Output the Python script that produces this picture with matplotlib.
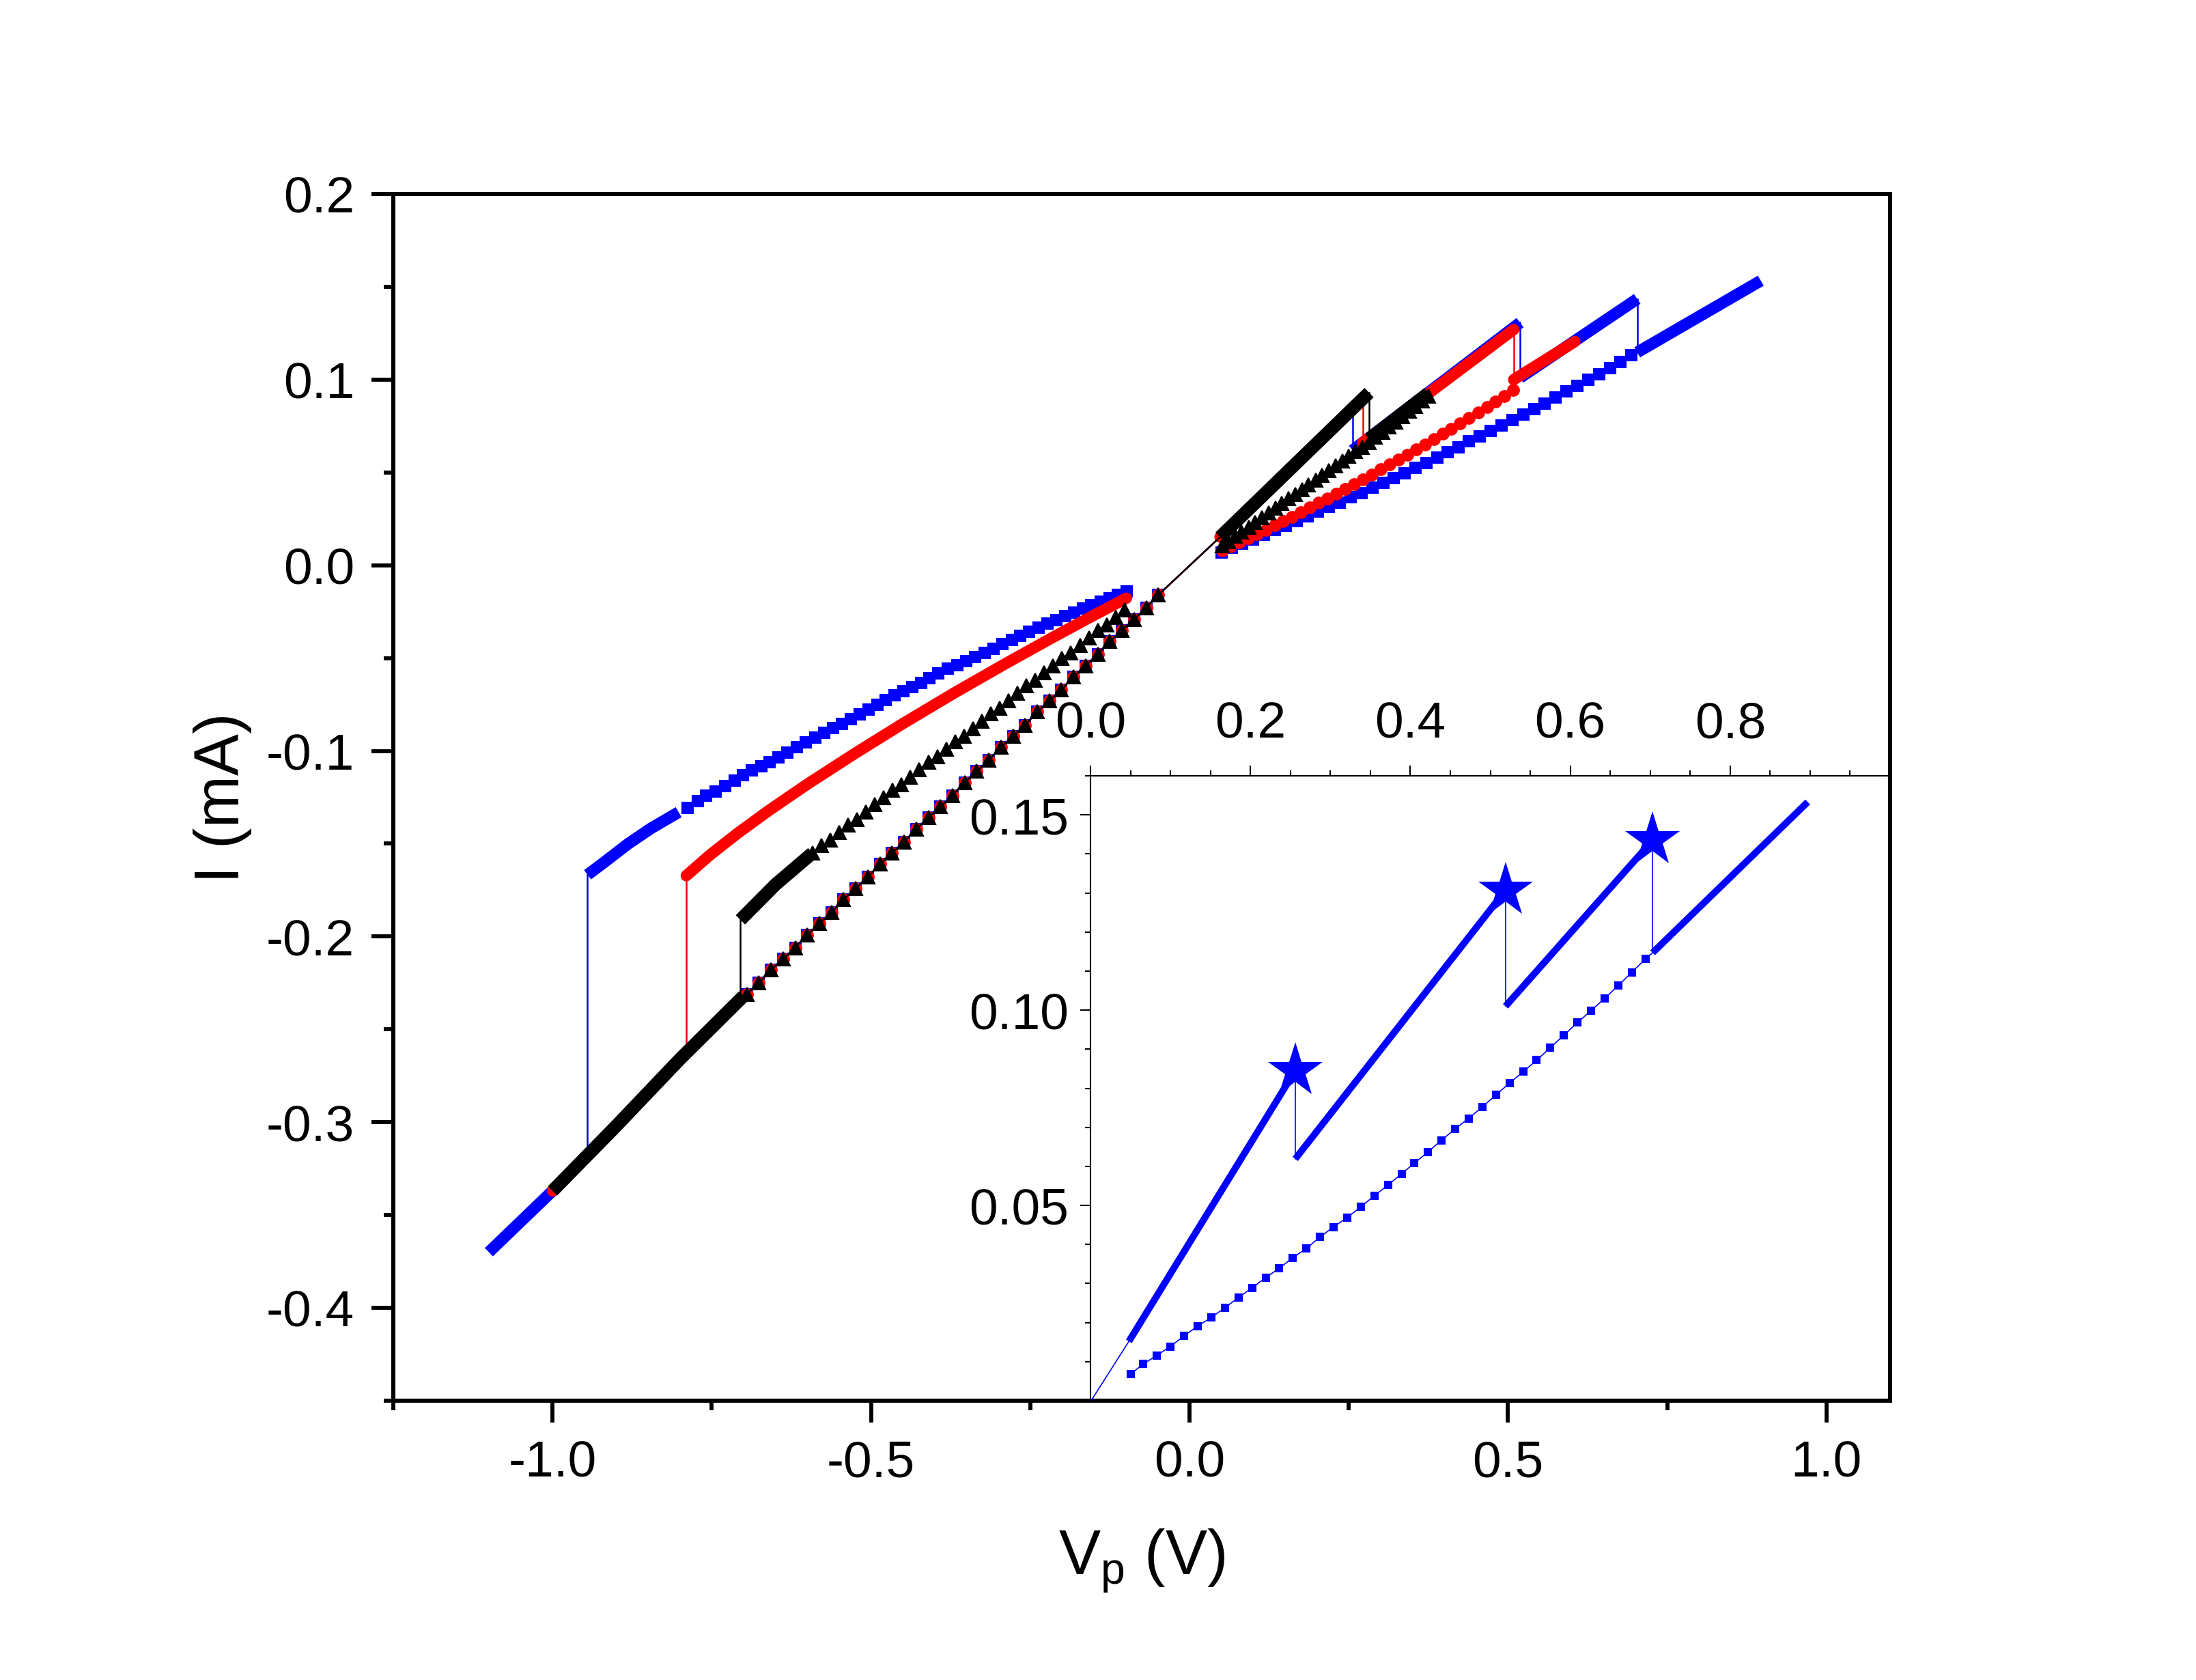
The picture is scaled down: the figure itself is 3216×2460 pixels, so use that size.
import matplotlib
matplotlib.use('Agg')
import matplotlib.pyplot as plt
from matplotlib.ticker import MultipleLocator, FixedLocator

plt.rcParams['font.family'] = ['Liberation Sans', 'DejaVu Sans']
plt.rcParams['mathtext.fontset'] = 'custom'
plt.rcParams['mathtext.rm'] = 'Liberation Sans'
plt.rcParams['mathtext.it'] = 'Liberation Sans:italic'
plt.rcParams['axes.unicode_minus'] = False

BLUE = '#0000FF'
RED = '#FF0000'
BLACK = '#000000'

# ---- negative side, low resistance branch (shared by all three sweeps) ----
lrs_dense_v = [-1.10, -1.00, -0.90, -0.80, -0.70]
lrs_dense_i = [-0.370, -0.337, -0.302, -0.266, -0.232]

lrs_v = [-0.695, -0.676, -0.657, -0.638, -0.619, -0.600, -0.581, -0.562, -0.543, -0.524,
         -0.505, -0.486, -0.467, -0.448, -0.429, -0.410, -0.391, -0.372, -0.353, -0.334,
         -0.315, -0.296, -0.277, -0.258, -0.239, -0.220, -0.201, -0.182, -0.163, -0.144,
         -0.125, -0.106, -0.087, -0.068, -0.049]
lrs_i = [-0.231, -0.225, -0.218, -0.212, -0.206, -0.199, -0.193, -0.187, -0.180, -0.174,
         -0.168, -0.161, -0.155, -0.149, -0.142, -0.136, -0.130, -0.124, -0.117, -0.111,
         -0.105, -0.098, -0.092, -0.086, -0.079, -0.073, -0.067, -0.060, -0.054, -0.048,
         -0.041, -0.035, -0.029, -0.023, -0.016]

# most negative voltage of each sweep (blue, red, black)
v_min = {'blue': -1.10, 'red': -1.00, 'black': -1.00}

# switching jumps on the negative side: voltage, low current, high current
set_v = {'blue': -0.945, 'red': -0.790, 'black': -0.705}
set_i_low = {'blue': -0.317, 'red': -0.262, 'black': -0.232}
set_i_high = {'blue': -0.1667, 'red': -0.1673, 'black': -0.191}

# ---- negative side, high resistance branches ----
blue_hrs_dense_v = [-0.945, -0.919, -0.882, -0.845, -0.802]
blue_hrs_dense_i = [-0.1667, -0.1600, -0.1502, -0.1416, -0.1330]
blue_hrs_v = [-0.788, -0.772, -0.759, -0.744, -0.729, -0.714, -0.701, -0.687, -0.672, -0.659,
              -0.645, -0.631, -0.616, -0.602, -0.587, -0.574, -0.560, -0.546, -0.532, -0.518,
              -0.504, -0.490, -0.477, -0.463, -0.449, -0.435, -0.421, -0.408, -0.394, -0.379,
              -0.364, -0.350, -0.337, -0.322, -0.308, -0.294, -0.279, -0.266, -0.252, -0.237,
              -0.223, -0.209, -0.195, -0.181, -0.167, -0.154, -0.139, -0.125, -0.112, -0.099]
blue_hrs_i = [-0.1308, -0.1270, -0.1240, -0.1217, -0.1189, -0.1158, -0.1131, -0.1106, -0.1084, -0.1060,
              -0.1036, -0.1009, -0.0980, -0.0952, -0.0927, -0.0903, -0.0878, -0.0854, -0.0829, -0.0803,
              -0.0778, -0.0752, -0.0725, -0.0700, -0.0676, -0.0654, -0.0632, -0.0608, -0.0583, -0.0558,
              -0.0537, -0.0515, -0.0495, -0.0472, -0.0448, -0.0425, -0.0401, -0.0379, -0.0357, -0.0336,
              -0.0315, -0.0294, -0.0274, -0.0253, -0.0233, -0.0214, -0.0196, -0.0178, -0.0160, -0.0140]

red_hrs_v = [-0.790, -0.753, -0.710, -0.660, -0.599, -0.525, -0.451, -0.370, -0.290, -0.216, -0.155, -0.099]
red_hrs_i = [-0.1672, -0.1561, -0.1445, -0.1320, -0.1177, -0.1013, -0.0855, -0.0689, -0.0532, -0.0391, -0.0278, -0.0177]

black_hrs_dense_v = [-0.705, -0.650, -0.592]
black_hrs_dense_i = [-0.191, -0.172, -0.155]
black_hrs_v = [-0.592, -0.578, -0.564, -0.550, -0.536, -0.522, -0.508, -0.494, -0.480, -0.466,
               -0.452, -0.438, -0.424, -0.410, -0.396, -0.382, -0.368, -0.354, -0.340, -0.326,
               -0.312, -0.298, -0.284, -0.270, -0.256, -0.242, -0.228, -0.214, -0.200, -0.186,
               -0.172, -0.158, -0.144, -0.130, -0.116, -0.102]
black_hrs_i = [-0.155, -0.151, -0.148, -0.144, -0.140, -0.137, -0.133, -0.129, -0.125, -0.121,
               -0.118, -0.114, -0.110, -0.106, -0.103, -0.099, -0.095, -0.092, -0.088, -0.084,
               -0.080, -0.077, -0.073, -0.069, -0.065, -0.062, -0.058, -0.054, -0.050, -0.047,
               -0.043, -0.039, -0.035, -0.032, -0.028, -0.024]

# ---- positive side: stepwise reset sweeps (pairs = dense segments, between = drops) ----
blue_pos_v = [0.048, 0.256, 0.256, 0.519, 0.519, 0.703, 0.703, 0.897]
blue_pos_i = [0.0152, 0.0845, 0.0619, 0.1307, 0.1010, 0.1435, 0.1147, 0.1533]
red_pos_v = [0.048, 0.272, 0.272, 0.509, 0.509, 0.605]
red_pos_i = [0.0152, 0.090, 0.066, 0.127, 0.100, 0.1205]
black_pos_v = [0.048, 0.282, 0.282, 0.375]
black_pos_i = [0.0152, 0.093, 0.068, 0.0927]

star_v = [0.256, 0.519, 0.703]
star_i = [0.0845, 0.1307, 0.1435]

# ---- positive side, return sweeps ----
blue_ret_v = [0.050, 0.066, 0.083, 0.100, 0.117, 0.134, 0.151, 0.168, 0.185, 0.202,
              0.219, 0.236, 0.253, 0.270, 0.287, 0.304, 0.321, 0.338, 0.355, 0.372,
              0.389, 0.405, 0.422, 0.439, 0.456, 0.473, 0.490, 0.507, 0.524, 0.541,
              0.558, 0.575, 0.592, 0.609, 0.626, 0.643, 0.660, 0.677, 0.694]
blue_ret_i = [0.0068, 0.0094, 0.0116, 0.0139, 0.0166, 0.0191, 0.0213, 0.0238, 0.0264, 0.0289,
              0.0315, 0.0339, 0.0366, 0.0390, 0.0419, 0.0445, 0.0469, 0.0496, 0.0525, 0.0552,
              0.0581, 0.0608, 0.0637, 0.0667, 0.0696, 0.0723, 0.0752, 0.0783, 0.0813, 0.0842,
              0.0872, 0.0904, 0.0936, 0.0968, 0.0999, 0.1030, 0.1063, 0.1097, 0.1131]

red_ret_v = [0.051, 0.064, 0.078, 0.092, 0.106, 0.120, 0.134, 0.147, 0.161, 0.175,
             0.189, 0.203, 0.217, 0.231, 0.244, 0.258, 0.272, 0.286, 0.300, 0.314,
             0.328, 0.342, 0.356, 0.370, 0.384, 0.398, 0.411, 0.425, 0.439, 0.453,
             0.467, 0.480, 0.494, 0.508]
red_ret_i = [0.0080, 0.0102, 0.0124, 0.0146, 0.0167, 0.0192, 0.0216, 0.0239, 0.0262, 0.0287,
             0.0311, 0.0336, 0.0360, 0.0386, 0.0412, 0.0438, 0.0463, 0.0490, 0.0516, 0.0543,
             0.0569, 0.0596, 0.0623, 0.0651, 0.0679, 0.0708, 0.0736, 0.0764, 0.0792, 0.0822,
             0.0851, 0.0881, 0.0911, 0.0945]

black_ret_v = [0.051, 0.061, 0.072, 0.082, 0.093, 0.103, 0.114, 0.124, 0.135, 0.145,
               0.156, 0.166, 0.177, 0.187, 0.198, 0.208, 0.219, 0.229, 0.240, 0.250,
               0.261, 0.271, 0.282, 0.292, 0.303, 0.313, 0.324, 0.334, 0.345, 0.355,
               0.366, 0.375]
black_ret_i = [0.0105, 0.0129, 0.0156, 0.0180, 0.0206, 0.0231, 0.0257, 0.0281, 0.0308, 0.0332,
               0.0359, 0.0383, 0.0409, 0.0433, 0.0460, 0.0484, 0.0511, 0.0535, 0.0561, 0.0586,
               0.0612, 0.0636, 0.0663, 0.0690, 0.0718, 0.0745, 0.0773, 0.0800, 0.0829, 0.0856,
               0.0885, 0.0910]


def thin(ax, v, i, color, lw=0.6, z=2):
    ax.plot(v, i, '-', color=color, lw=lw, zorder=z)


def thick(ax, v, i, color, lw, cap='butt', z=2):
    ax.plot(v, i, '-', color=color, lw=lw, solid_capstyle=cap, solid_joinstyle='round', zorder=z)


def dots(ax, v, i, color, marker, ms, lw=0.6, z=2):
    ax.plot(v, i, '-', color=color, lw=lw, marker=marker, ms=ms, mfc=color, mec=color,
            mew=0.5, zorder=z)


def pos_sweep(ax, v, i, color, lw_dense, lw_thin, cap, z):
    for k in range(0, len(v) - 1, 2):
        thick(ax, v[k:k + 2], i[k:k + 2], color, lw_dense, cap, z)
        if k + 2 < len(v):
            thin(ax, v[k + 1:k + 3], i[k + 1:k + 3], color, lw_thin, z)


fig = plt.figure(figsize=(10.72, 8.203), dpi=300)
ax = fig.add_axes([0.1791, 0.1662, 0.6816, 0.7180])

# name, colour, marker, marker size, dense line width, cap style, zorder
styles = [
    ('blue', BLUE, 's', 3.7, 4.1, 'butt', 2),
    ('red', RED, 'o', 4.0, 4.0, 'round', 3),
    ('black', BLACK, '^', 4.8, 4.6, 'butt', 4),
]
hrs_neg = {'blue': (blue_hrs_v, blue_hrs_i), 'red': (red_hrs_v, red_hrs_i),
           'black': (black_hrs_v, black_hrs_i)}
pos = {'blue': (blue_pos_v, blue_pos_i), 'red': (red_pos_v, red_pos_i),
       'black': (black_pos_v, black_pos_i)}
ret = {'blue': (blue_ret_v, blue_ret_i), 'red': (red_ret_v, red_ret_i),
       'black': (black_ret_v, black_ret_i)}

for name, col, mk, ms, lw, cap, z in styles:
    start = lrs_dense_v.index(v_min[name])
    # low resistance branch, negative side
    thick(ax, lrs_dense_v[start:], lrs_dense_i[start:], col, lw, cap, z)
    dots(ax, lrs_v, lrs_i, col, mk, ms, z=z)
    thin(ax, [lrs_v[-1], pos[name][0][0]], [lrs_i[-1], pos[name][1][0]], col, z=z)
    # switching jump
    thin(ax, [set_v[name], set_v[name]], [set_i_low[name], set_i_high[name]], col, z=z)
    # high resistance branch, negative side
    hv, hi = hrs_neg[name]
    if name == 'blue':
        thick(ax, blue_hrs_dense_v, blue_hrs_dense_i, col, lw, cap, z)
        dots(ax, hv, hi, col, mk, ms, z=z)
    elif name == 'red':
        thick(ax, hv, hi, col, lw, 'round', z)
    else:
        thick(ax, black_hrs_dense_v, black_hrs_dense_i, col, lw, cap, z)
        dots(ax, hv, hi, col, mk, ms, z=z)
    # positive side
    pv, pi = pos[name]
    pos_sweep(ax, pv, pi, col, lw, 0.6, cap, z)
    rv, ri = ret[name]
    dots(ax, rv, ri, col, mk, ms, z=z)

ax.set_xlim(-1.25, 1.1)
ax.set_ylim(-0.45, 0.2)
ax.xaxis.set_major_locator(FixedLocator([-1.0, -0.5, 0.0, 0.5, 1.0]))
ax.xaxis.set_minor_locator(FixedLocator([-1.25, -0.75, -0.25, 0.25, 0.75]))
ax.yaxis.set_major_locator(MultipleLocator(0.1))
ax.yaxis.set_minor_locator(MultipleLocator(0.05))
ax.set_xticklabels(['-1.0', '-0.5', '0.0', '0.5', '1.0'])
ax.set_yticks([-0.4, -0.3, -0.2, -0.1, 0.0, 0.1, 0.2])
ax.set_yticklabels(['-0.4', '-0.3', '-0.2', '-0.1', '0.0', '0.1', '0.2'])
ax.tick_params(which='both', direction='out', width=1.4, labelsize=18, top=False, right=False)
ax.tick_params(which='major', length=7.7, pad=6)
ax.tick_params(which='minor', length=3.4)
for s in ax.spines.values():
    s.set_linewidth(1.45)
ax.set_xlabel('V$_{\\mathrm{p}}$ (V)', fontsize=22, labelpad=14)
ax.set_ylabel('I (mA)', fontsize=22, labelpad=5)

# ---- inset ----
axin = fig.add_axes([0.4966, 0.1662, 0.3641, 0.3718])
axin.patch.set_alpha(0)
thin(axin, [lrs_v[-1], blue_pos_v[0]], [lrs_i[-1], blue_pos_i[0]], BLUE, lw=0.4)
pos_sweep(axin, blue_pos_v, blue_pos_i, BLUE, 2.4, 0.4, 'butt', 2)
dots(axin, blue_ret_v, blue_ret_i, BLUE, 's', 2.6, lw=0.4)
thin(axin, [blue_ret_v[-1], blue_pos_v[6]], [blue_ret_i[-1], blue_pos_i[6]], BLUE, lw=0.4)
axin.plot(star_v, star_i, linestyle='none', marker='*', ms=20, color=BLUE, mew=0, zorder=5)

axin.set_xlim(0, 1.0)
axin.set_ylim(0, 0.16)
axin.xaxis.tick_top()
axin.xaxis.set_major_locator(FixedLocator([0.0, 0.2, 0.4, 0.6, 0.8]))
axin.xaxis.set_minor_locator(FixedLocator([0.05, 0.1, 0.15, 0.25, 0.3, 0.35, 0.45, 0.5, 0.55,
                                           0.65, 0.7, 0.75, 0.85, 0.9, 0.95]))
axin.set_xticklabels(['0.0', '0.2', '0.4', '0.6', '0.8'])
axin.yaxis.set_major_locator(FixedLocator([0.05, 0.10, 0.15]))
axin.yaxis.set_minor_locator(MultipleLocator(0.01))
axin.set_yticklabels(['0.05', '0.10', '0.15'])
axin.tick_params(which='both', direction='out', width=0.5, labelsize=18,
                 bottom=False, right=False)
axin.tick_params(axis='x', which='major', length=3.5, pad=6.5)
axin.tick_params(axis='y', which='major', length=3.7, pad=4)
axin.tick_params(which='minor', length=1.9)
axin.spines['bottom'].set_visible(False)
axin.spines['right'].set_visible(False)
axin.spines['top'].set_linewidth(0.5)
axin.spines['left'].set_linewidth(0.5)

fig.savefig('out.png', dpi=300)
